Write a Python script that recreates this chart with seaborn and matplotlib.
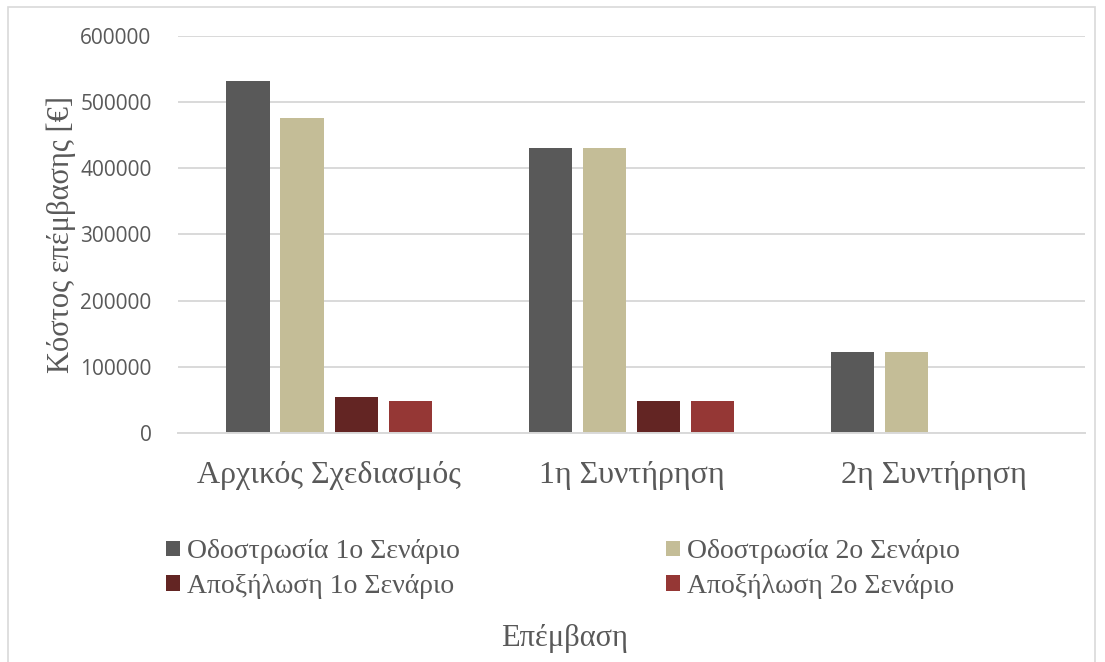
import matplotlib
matplotlib.use("Agg")
import matplotlib.pyplot as plt
import seaborn as sns
import pandas as pd
from matplotlib.patches import Rectangle

# Intervention phases and cost series (EUR)
phases = ["Αρχικός Σχεδιασμός", "1η Συντήρηση", "2η Συντήρηση"]
series = ["Οδοστρωσία 1ο Σενάριο", "Οδοστρωσία 2ο Σενάριο",
          "Αποξήλωση 1ο Σενάριο", "Αποξήλωση 2ο Σενάριο"]
pavement_s1 = [532000, 431000, 122500]
pavement_s2 = [476000, 431000, 122500]
removal_s1 = [55000, 48000, 0]
removal_s2 = [48000, 48000, 0]
colors = ["#595959", "#C4BD97", "#632523", "#953735"]

rows = []
for name, vals in zip(series, [pavement_s1, pavement_s2, removal_s1, removal_s2]):
    for ph, v in zip(phases, vals):
        rows.append({"Επέμβαση": ph, "Σειρά": name, "Κόστος": v})
df = pd.DataFrame(rows)

sns.set_theme(style="white")
plt.rcParams["font.family"] = ["Liberation Serif", "DejaVu Serif"]

fig = plt.figure(figsize=(11.05, 6.62), dpi=100)
ax = fig.add_axes([0.161, 0.346, 0.821, 0.6])

sns.barplot(data=df, x="Επέμβαση", y="Κόστος", hue="Σειρά",
            hue_order=series, palette=colors, width=0.716, gap=0.2,
            saturation=1, ax=ax, legend=True, linewidth=0, edgecolor="none")

ax.set_ylim(0, 600000)
ax.set_yticks(range(0, 600001, 100000))
ax.set_yticklabels([str(v) for v in range(0, 600001, 100000)],
                   family=["Open Sans", "DejaVu Sans"], fontsize=15, color="#595959")
ax.yaxis.grid(True, color="#d9d9d9", linewidth=1.4)
ax.set_axisbelow(True)
for s in ["top", "right", "left"]:
    ax.spines[s].set_visible(False)
ax.spines["bottom"].set_color("#d9d9d9")
ax.spines["bottom"].set_linewidth(1.4)
ax.tick_params(axis="both", length=0)
ax.tick_params(axis="y", pad=19)
ax.tick_params(axis="x", pad=20)
for lbl in ax.get_xticklabels():
    lbl.set_fontsize(23)
    lbl.set_color("#595959")
ax.set_xlabel("")
ax.set_ylabel("Κόστος επέμβασης [€]", fontsize=22, color="#595959")
ax.yaxis.set_label_coords(-0.112, 0.5)

# two columns, filled row by row: scenario 1 left, scenario 2 right
handles, labels = ax.get_legend_handles_labels()
ax.get_legend().remove()
order = [0, 2, 1, 3]
leg = fig.legend([handles[i] for i in order], [labels[i] for i in order],
                 ncol=2, loc="upper left",
                 bbox_to_anchor=(0.128, 0.223), frameon=False,
                 fontsize=20, handlelength=0.5, handleheight=0.5,
                 handletextpad=0.25, columnspacing=7.4, labelspacing=0.35)
for t in leg.get_texts():
    t.set_color("#595959")

fig.text(0.511, 0.036, "Επέμβαση", ha="center", va="center",
         fontsize=22, color="#595959")

fig.patches.append(Rectangle((8 / 1105, -0.01), 1087 / 1105, 1 - 7 / 662 + 0.01,
                             transform=fig.transFigure, fill=False,
                             edgecolor="#d9d9d9", linewidth=1.2))

fig.savefig("out.png", dpi=100, facecolor="white")
